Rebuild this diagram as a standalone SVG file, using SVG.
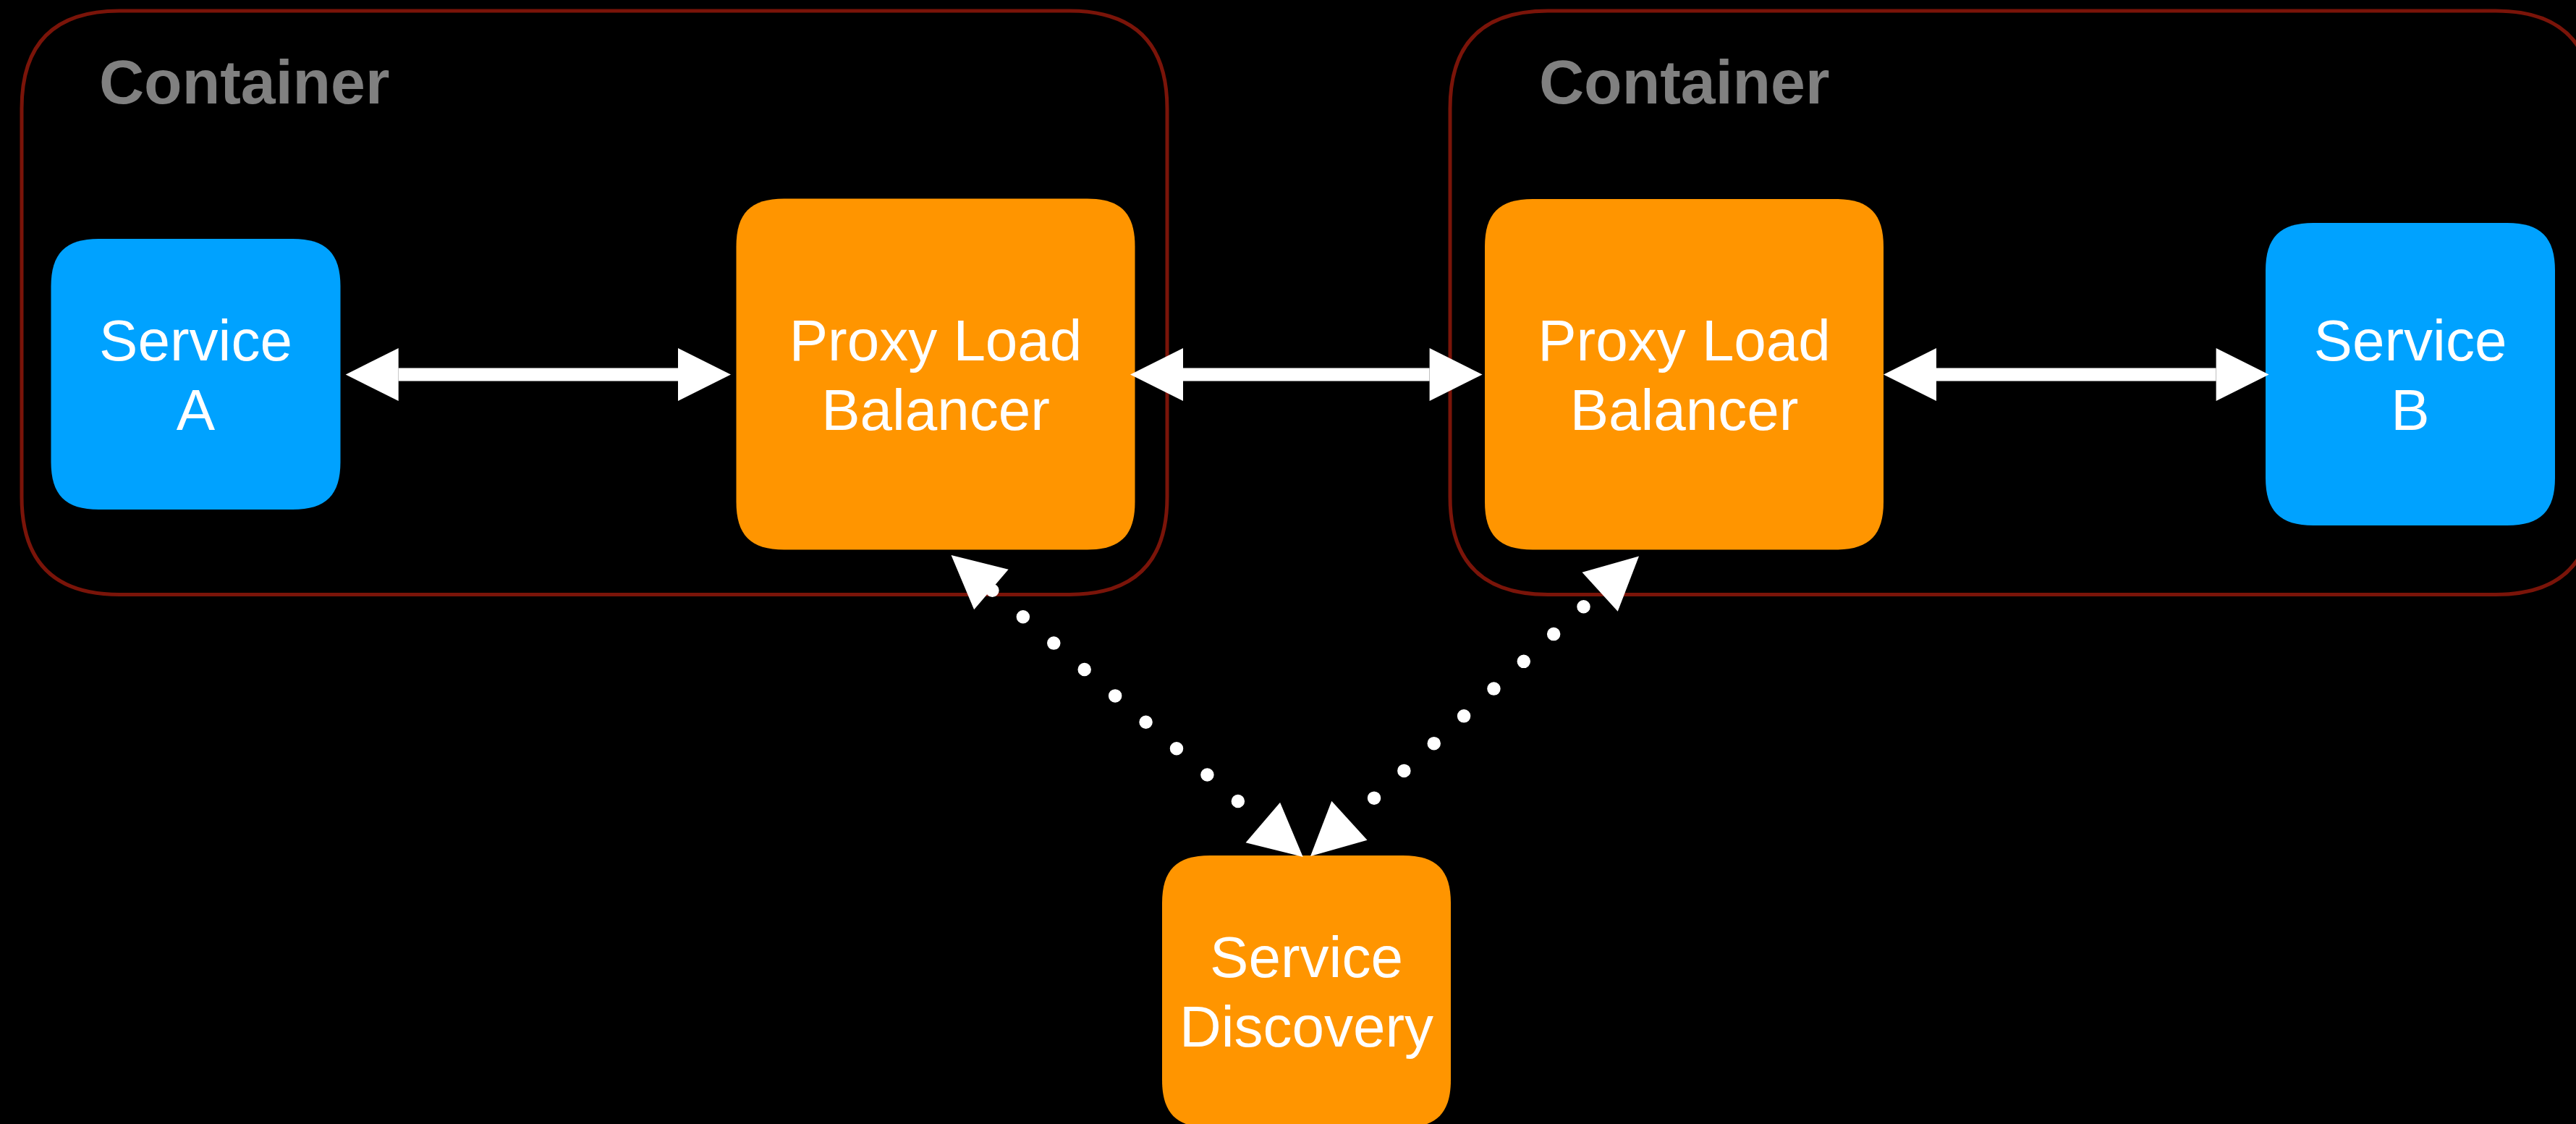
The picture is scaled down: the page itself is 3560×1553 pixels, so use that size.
<svg xmlns="http://www.w3.org/2000/svg" width="3560" height="1553" viewBox="0 0 3560 1553">
  <style>
    .container { fill: none; stroke: #7A1409; stroke-width: 5; }
    .container-label { font-family: "Liberation Sans", Arial, Helvetica, sans-serif; font-weight: bold; font-size: 86px; fill: #808080; }
    .svc { fill: #00A2FF; }
    .infra { fill: #FF9500; }
    .label { font-family: "Liberation Sans", Arial, Helvetica, sans-serif; font-size: 80px; fill: #FFFFFF; text-anchor: middle; }
    .link { fill: none; stroke: #FFFFFF; stroke-width: 18; marker-start: url(#head); marker-end: url(#head); }
    .lookup { fill: none; stroke: #FFFFFF; stroke-width: 18.5; stroke-linecap: round; marker-start: url(#head); marker-end: url(#head); }
  </style>
  <defs>
    <marker id="head" markerUnits="userSpaceOnUse" viewBox="0 0 73 73" markerWidth="73" markerHeight="73" refX="0" refY="36.5" orient="auto-start-reverse" overflow="visible">
      <path d="M0,0 L73,36.5 L0,73 Z" fill="#FFFFFF" stroke="none"/>
    </marker>
  </defs>

  <rect x="0" y="0" width="3560" height="1553" fill="#000000"/>

  <!-- containers -->
  <g id="container-left">
    <path class="container" d="M165,15 H1478 C1568,15 1613,60 1613,150 V686.5 C1613,776.5 1568,821.5 1478,821.5 H165 C75,821.5 30,776.5 30,686.5 V150 C30,60 75,15 165,15 Z"/>
    <text class="container-label" x="137" y="143">Container</text>
  </g>
  <g id="container-right">
    <path class="container" d="M2139,15 H3449 C3539,15 3584,60 3584,150 V686.5 C3584,776.5 3539,821.5 3449,821.5 H2139 C2049,821.5 2004,776.5 2004,686.5 V150 C2004,60 2049,15 2139,15 Z"/>
    <text class="container-label" x="2127" y="143">Container</text>
  </g>

  <!-- nodes -->
  <g id="service-a">
    <path class="svc" d="M136.5,330 H404.5 C450.5,330 470.5,350 470.5,396 V638 C470.5,684 450.5,704 404.5,704 H136.5 C90.5,704 70.5,684 70.5,638 V396 C70.5,350 90.5,330 136.5,330 Z"/>
    <text class="label" x="270.5" y="498">Service</text>
    <text class="label" x="270.5" y="594">A</text>
  </g>
  <g id="proxy-lb-left">
    <path class="infra" d="M1083.5,274.5 H1502.5 C1548.5,274.5 1568.5,294.5 1568.5,340.5 V693.5 C1568.5,739.5 1548.5,759.5 1502.5,759.5 H1083.5 C1037.5,759.5 1017.5,739.5 1017.5,693.5 V340.5 C1017.5,294.5 1037.5,274.5 1083.5,274.5 Z"/>
    <text class="label" x="1293" y="498">Proxy Load</text>
    <text class="label" x="1293" y="594">Balancer</text>
  </g>
  <g id="proxy-lb-right">
    <path class="infra" d="M2118,275 H2537 C2583,275 2603,295 2603,341 V693.5 C2603,739.5 2583,759.5 2537,759.5 H2118 C2072,759.5 2052,739.5 2052,693.5 V341 C2052,295 2072,275 2118,275 Z"/>
    <text class="label" x="2327.5" y="498">Proxy Load</text>
    <text class="label" x="2327.5" y="594">Balancer</text>
  </g>
  <g id="service-b">
    <path class="svc" d="M3197,308 H3465 C3511,308 3531,328 3531,374 V660 C3531,706 3511,726 3465,726 H3197 C3151,726 3131,706 3131,660 V374 C3131,328 3151,308 3197,308 Z"/>
    <text class="label" x="3331" y="498">Service</text>
    <text class="label" x="3331" y="594">B</text>
  </g>
  <g id="service-discovery">
    <path class="infra" d="M1672,1182 H1939 C1985,1182 2005,1202 2005,1248 V1492 C2005,1538 1985,1558 1939,1558 H1672 C1626,1558 1606,1538 1606,1492 V1248 C1606,1202 1626,1182 1672,1182 Z"/>
    <text class="label" x="1805.5" y="1350">Service</text>
    <text class="label" x="1805.5" y="1446">Discovery</text>
  </g>

  <!-- connectors -->
  <g id="connectors">
    <path class="link" d="M550.7,517.5 H937"/>
    <path class="link" d="M1635,517.5 H1975.6"/>
    <path class="link" d="M2676,517.5 H3062.6"/>
    <path class="lookup" stroke-dasharray="0 55.9" stroke-dashoffset="53.9" d="M1369.9,814.5 L1745.3,1136.5"/>
    <path class="lookup" stroke-dasharray="0 56" stroke-dashoffset="25.4" d="M2211.1,817.7 L1864.9,1133.8"/>
  </g>
</svg>
